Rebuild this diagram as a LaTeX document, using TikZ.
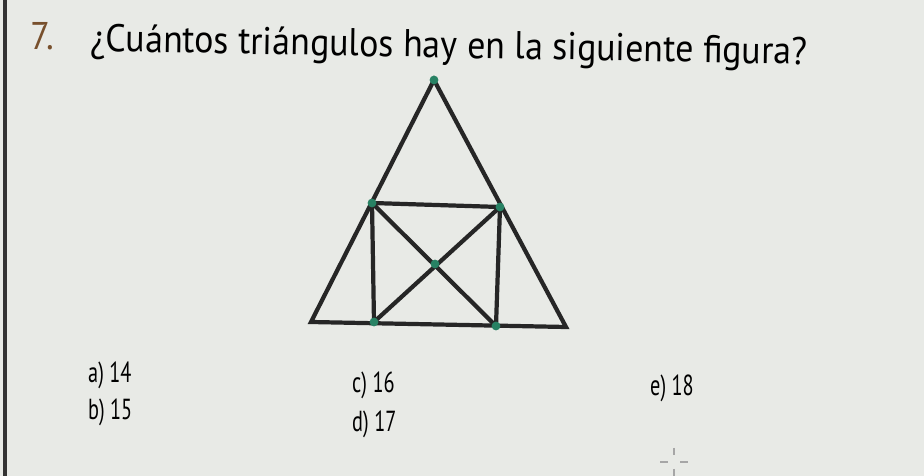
\documentclass[tikz,border=0pt]{standalone}
\usepackage{fontspec}
\setmainfont{PT Sans}
\usetikzlibrary{positioning}
\definecolor{paper}{RGB}{232,234,230}
\definecolor{dotgreen}{RGB}{40,130,100}
\definecolor{numbrown}{RGB}{120,80,45}

\begin{document}
\begin{tikzpicture}
[x=0.02cm, y=-0.02cm,
edge/.style={line width=2.4pt, black!85, line cap=round},
vertex/.style={circle, fill=dotgreen, inner sep=0pt, minimum size=5pt},
question/.style={font=\fontsize{22}{26}\selectfont, inner sep=0pt, anchor=base west, xscale=0.93},
answer/.style={font=\fontsize{16.5}{18}\selectfont, inner sep=0pt, anchor=base west, xscale=0.7},]

\fill[paper] (0,0) rectangle (924,476);
\useasboundingbox (0,0) rectangle (924,476);
\draw[line width=2.4pt, black!80] (5,0) -- (5,476);

\node (num) [question, text=numbrown] at (30,50) {7.};
\node (title) [question, rotate=-1] at (90,51) {¿Cuántos triángulos hay en la siguiente figura?};

% figure
\coordinate (top) at (434,80);
\coordinate (bl) at (311,322);
\coordinate (br) at (566,327);
\coordinate (sqtl) at (372,203);
\coordinate (sqtr) at (500,207);
\coordinate (sqbl) at (374,322);
\coordinate (sqbr) at (496,326);
\coordinate (mid) at (435,264);

\draw [edge] (top) -- (bl) -- (br) -- cycle;
\draw [edge] (sqtl) -- (sqtr) -- (sqbr);
\draw [edge] (sqtl) -- (sqbl);
\draw [edge] (sqtl) -- (sqbr);
\draw [edge] (sqtr) -- (sqbl);

\foreach \v in {top,sqtl,sqtr,sqbl,sqbr,mid}
  \node [vertex] at (\v) {};

% answers
\node (ansa) [answer] at (88,383) {a) 14};
\node (ansb) [answer] at (88,420) {b) 15};
\node (ansc) [answer] at (352,393) {c) 16};
\node (ansd) [answer] at (352,432) {d) 17};
\node (anse) [answer] at (650,396) {e) 18};

\draw [black!35, line width=1.2pt] (660,462) -- (668,462) (680,462) -- (688,462)
  (674,448) -- (674,455) (674,469) -- (674,476);
\end{tikzpicture}
\end{document}
